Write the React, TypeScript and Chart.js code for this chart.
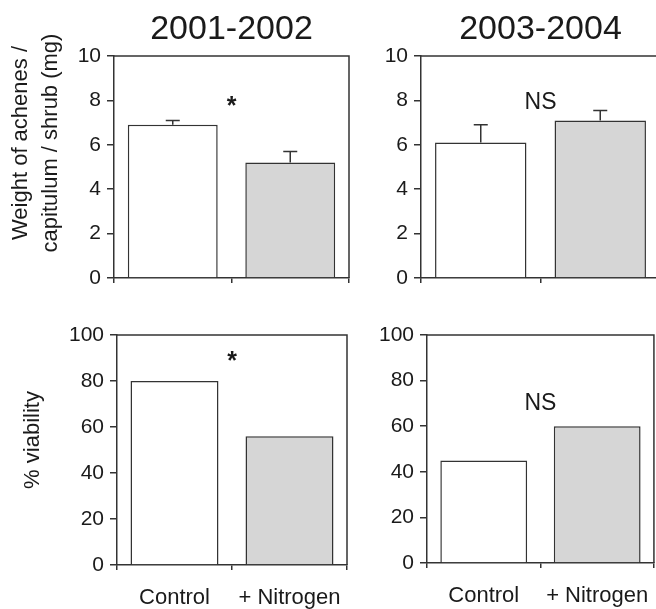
import { useEffect, useRef } from "react";
import { Chart, registerables } from "chart.js";

Chart.register(...registerables);

// ---------- data ----------
const categories = ["Control", "+ Nitrogen"];
const periods = ["2001-2002", "2003-2004"];
const weight0102 = [6.9, 5.2];
const weightErr0102 = [0.2, 0.5];
const weight0304 = [6.1, 7.1];
const weightErr0304 = [0.8, 0.45];
const viability0102 = [80, 56];
const viability0304 = [45, 60];
const weightTicks = [0, 2, 4, 6, 8, 10];
const viabilityTicks = [0, 20, 40, 60, 80, 100];
const sigLabels = ["*", "NS", "*", "NS"];
const sigValues = [7.7, 7.9, 88, 70];
const weightAxisLabel = ["Weight of achenes /", "capitulum / shrub (mg)"];
const viabilityAxisLabel = ["% viability"];

// ---------- styles ----------
const FONT = "'Liberation Sans', Arial, Helvetica, sans-serif";
const AXIS = "#333333";
const TEXT = "#1a1a1a";
const FILLS = ["#ffffff", "#d6d6d6"];

type PanelSpec = {
  left: number;
  top: number;
  width: number;
  height: number;
  axisWidth: number;
  xAxisHeight: number;
  padTop: number;
  padRight: number;
  values: number[];
  errors: number[] | null;
  ticks: number[];
  max: number;
  showCategories: boolean;
  heading: string | null;
  sig: string;
  sigValue: number;
  sigFont: string;
  yLabel: string[] | null;
  yLabelX: number[];
  yLabelY: number;
};

const panelDecor = {
  id: "panelDecor",
  afterDatasetsDraw(chart: any, _args: any, opts: any) {
    const { ctx, chartArea: a, scales } = chart;
    const ys = scales.y;
    const xs = scales.x;
    ctx.save();
    // top & right frame
    ctx.strokeStyle = AXIS;
    ctx.lineWidth = 1.5;
    ctx.beginPath();
    ctx.moveTo(a.left, a.top);
    ctx.lineTo(a.right, a.top);
    ctx.lineTo(a.right, a.bottom);
    ctx.stroke();

    // error bars
    const errs: number[] | null = opts.errors;
    if (errs) {
      const meta = chart.getDatasetMeta(0);
      const vals: number[] = chart.data.datasets[0].data;
      meta.data.forEach((bar: any, i: number) => {
        const y0 = ys.getPixelForValue(vals[i]);
        const y1 = ys.getPixelForValue(vals[i] + errs[i]);
        ctx.beginPath();
        ctx.moveTo(bar.x, y0);
        ctx.lineTo(bar.x, y1);
        ctx.moveTo(bar.x - 7, y1);
        ctx.lineTo(bar.x + 7, y1);
        ctx.stroke();
      });
    }

    ctx.fillStyle = TEXT;
    ctx.textAlign = "center";
    ctx.textBaseline = "middle";

    // significance mark
    ctx.font = opts.sigFont;
    ctx.fillText(opts.sig, xs.getPixelForValue(0.5), ys.getPixelForValue(opts.sigValue));

    // heading
    if (opts.heading) {
      ctx.font = `34px ${FONT}`;
      ctx.fillText(opts.heading, (a.left + a.right) / 2, 30);
    }

    // y-axis label
    if (opts.yLabel) {
      ctx.font = `22px ${FONT}`;
      (opts.yLabel as string[]).forEach((line, i) => {
        ctx.save();
        ctx.translate(opts.yLabelX[i], opts.yLabelY);
        ctx.rotate(-Math.PI / 2);
        ctx.fillText(line, 0, 0);
        ctx.restore();
      });
    }
    ctx.restore();
  },
};

const panels: PanelSpec[] = [
  {
    left: 0, top: 0, width: 362, height: 300,
    axisWidth: 114, xAxisHeight: 22, padTop: 56, padRight: 13,
    values: weight0102, errors: weightErr0102, ticks: weightTicks, max: 10,
    showCategories: false, heading: periods[0],
    sig: sigLabels[0], sigValue: sigValues[0], sigFont: `bold 25px ${FONT}`,
    yLabel: weightAxisLabel, yLabelX: [21, 51], yLabelY: 143,
  },
  {
    left: 330, top: 0, width: 340, height: 300,
    axisWidth: 91, xAxisHeight: 22, padTop: 56, padRight: 10,
    values: weight0304, errors: weightErr0304, ticks: weightTicks, max: 10,
    showCategories: false, heading: periods[1],
    sig: sigLabels[1], sigValue: sigValues[1], sigFont: `23px ${FONT}`,
    yLabel: null, yLabelX: [], yLabelY: 0,
  },
  {
    left: 0, top: 300, width: 362, height: 309,
    axisWidth: 117, xAxisHeight: 44, padTop: 35, padRight: 15,
    values: viability0102, errors: null, ticks: viabilityTicks, max: 100,
    showCategories: true, heading: null,
    sig: sigLabels[2], sigValue: sigValues[2], sigFont: `bold 25px ${FONT}`,
    yLabel: viabilityAxisLabel, yLabelX: [33], yLabelY: 140,
  },
  {
    left: 330, top: 300, width: 336, height: 309,
    axisWidth: 97, xAxisHeight: 46, padTop: 35, padRight: 11,
    values: viability0304, errors: null, ticks: viabilityTicks, max: 100,
    showCategories: true, heading: null,
    sig: sigLabels[3], sigValue: sigValues[3], sigFont: `23px ${FONT}`,
    yLabel: null, yLabelX: [], yLabelY: 0,
  },
];

function Panel({ spec }: { spec: PanelSpec }) {
  const ref = useRef<HTMLCanvasElement | null>(null);
  useEffect(() => {
    if (!ref.current) return;
    const chart = new Chart(ref.current, {
      type: "bar",
      data: {
        labels: categories,
        datasets: [
          {
            data: spec.values,
            backgroundColor: FILLS,
            borderColor: AXIS,
            borderWidth: 1.5,
            barPercentage: 0.765,
            categoryPercentage: 1,
          },
        ],
      },
      options: {
        animation: false,
        responsive: false,
        devicePixelRatio: window.devicePixelRatio || 1,
        layout: { padding: { top: spec.padTop, right: spec.padRight, left: 0, bottom: 0 } },
        plugins: {
          legend: { display: false },
          tooltip: { enabled: false },
          title: { display: false },
          panelDecor: {
            errors: spec.errors,
            sig: spec.sig,
            sigValue: spec.sigValue,
            sigFont: spec.sigFont,
            heading: spec.heading,
            yLabel: spec.yLabel,
            yLabelX: spec.yLabelX,
            yLabelY: spec.yLabelY,
          },
        } as any,
        scales: {
          x: {
            type: "category",
            offset: true,
            grid: {
              offset: true,
              drawOnChartArea: false,
              drawTicks: true,
              tickLength: 5,
              color: AXIS,
              lineWidth: 1.5,
            },
            border: { display: true, color: AXIS, width: 1.5 },
            ticks: {
              display: spec.showCategories,
              color: TEXT,
              padding: 15,
              maxRotation: 0,
              autoSkip: false,
              font: { family: FONT, size: 22 },
            },
            afterFit: (s: any) => {
              s.height = spec.xAxisHeight;
            },
          },
          y: {
            type: "linear",
            min: 0,
            max: spec.max,
            grid: {
              drawOnChartArea: false,
              drawTicks: true,
              tickLength: 7,
              color: AXIS,
              lineWidth: 1.5,
            },
            border: { display: true, color: AXIS, width: 1.5 },
            ticks: {
              color: TEXT,
              padding: 6,
              font: { family: FONT, size: 21 },
            },
            afterBuildTicks: (s: any) => {
              s.ticks = spec.ticks.map((v) => ({ value: v }));
            },
            afterFit: (s: any) => {
              s.width = spec.axisWidth;
            },
          },
        },
      },
      plugins: [panelDecor],
    });
    return () => chart.destroy();
  }, [spec]);
  return (
    <canvas
      ref={ref}
      width={spec.width}
      height={spec.height}
      style={{
        position: "absolute",
        left: spec.left,
        top: spec.top,
        width: spec.width,
        height: spec.height,
      }}
    />
  );
}

export default function App() {
  return (
    <div
      style={{
        position: "absolute",
        left: 0,
        top: 0,
        width: 656,
        height: 609,
        overflow: "hidden",
        background: "#ffffff",
      }}
    >
      {panels.map((p, i) => (
        <Panel key={i} spec={p} />
      ))}
    </div>
  );
}
